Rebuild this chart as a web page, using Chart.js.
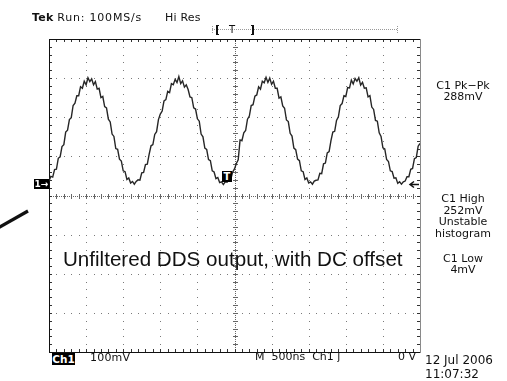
<!DOCTYPE html>
<html>
<head>
<meta charset="utf-8">
<script src="https://cdn.jsdelivr.net/npm/chart.js@4/dist/chart.umd.min.js"></script>
<style>
  html, body { margin: 0; padding: 0; background: #fff; }
  #wrap { position: relative; width: 507px; height: 381px; overflow: hidden; }
  #scope { position: absolute; left: 0; top: 0; }
  .lbl { position: absolute; font-family: "DejaVu Sans", sans-serif; font-size: 11px; line-height: 11px; color: #111; white-space: nowrap; }
  .meas { position: absolute; left: 423px; width: 80px; text-align: center; font-family: "DejaVu Sans", sans-serif; font-size: 11px; line-height: 11px; color: #111; white-space: nowrap; }
  .inv { position: absolute; background: #000; color: #fff; font-family: "DejaVu Sans", sans-serif; font-weight: bold; text-align: center; white-space: nowrap; }
  .note { position: absolute; left: 63px; top: 249px; font-family: "Liberation Sans", Arial, sans-serif; font-size: 20.6px; line-height: 20.6px; color: #111; white-space: nowrap; }
</style>
</head>
<body>
<div id="wrap">
  <canvas id="scope" width="507" height="381"></canvas>

  <div class="lbl" style="left:32px;top:12px;"><b style="letter-spacing:0.3px;">Tek</b> <span style="letter-spacing:0.8px;">Run: 100MS/s</span></div>
  <div class="lbl" style="left:165px;top:12px;letter-spacing:0.2px;">Hi Res</div>
  <div class="lbl" style="left:229px;top:24px;font-size:10px;">T</div>

  <div class="meas" style="top:80px;">C1 Pk−Pk<br>288mV</div>
  <div class="meas" style="top:193px;line-height:11.6px;">C1 High<br>252mV<br>Unstable<br>histogram</div>
  <div class="meas" style="top:253px;">C1 Low<br>4mV</div>

  <div class="inv" style="left:34px;top:179px;width:15px;height:10px;font-size:9px;line-height:10px;">1→</div>
  <div class="inv" style="left:222px;top:171px;width:10px;height:11px;font-size:10px;line-height:11px;">T</div>

  <div class="inv" style="left:52px;top:353px;width:23px;height:12px;font-size:10.5px;line-height:12px;">Ch1</div>
  <div class="lbl" style="left:90px;top:352px;letter-spacing:0.2px;">100mV</div>
  <div class="lbl" style="left:255px;top:351px;">M&nbsp; 500ns&nbsp; Ch1 ʃ</div>
  <div class="lbl" style="left:398px;top:351px;">0 V</div>
  <div class="lbl" style="left:425px;top:354px;font-size:12px;line-height:12px;">12 Jul 2006</div>
  <div class="lbl" style="left:425px;top:368px;font-size:12px;line-height:12px;">11:07:32</div>

  <div class="note">Unfiltered DDS output, with DC offset</div>
</div>

<script>
// Acquisition settings
const SAMPLE_NS = 25;            // one sample every 25 ns
const TIME_PER_DIV_US = 0.5;     // 500 ns / div
const VOLTS_PER_DIV_MV = 100;    // 100 mV / div
const H_DIVS = 10;
const V_DIVS = 8;
const SCREEN_BOTTOM_MV = -430;   // channel 1 ground sits 0.29 div above centre
const GROUND_MV = 0;

// Channel 1 record, mV (unfiltered DDS sine with DC offset)
const ch1 = [
  7, 19, 17, 36, 37, 65, 69, 95, 100, 132, 137, 164, 169, 200, 206, 225,
  225, 248, 244, 262, 253, 271, 261, 268, 253, 261, 242, 244, 220, 223, 197, 194,
  165, 158, 127, 121, 90, 88, 63, 58, 33, 31, 11, 15, 2, 6, -1, 6,
  10, 9, 28, 29, 49, 50, 76, 97, 100, 126, 133, 164, 178, 186, 212, 215,
  236, 233, 256, 253, 267, 259, 274, 256, 263, 247, 253, 241, 222, 220, 194, 191,
  166, 160, 127, 120, 91, 88, 62, 59, 33, 30, 13, 16, 3, 5, -2, 5,
  4, 15, 12, 30, 38, 52, 61, 112, 110, 130, 136, 165, 173, 200, 202, 224,
  227, 248, 242, 262, 258, 272, 259, 270, 254, 262, 244, 244, 219, 222, 199, 193,
  163, 159, 129, 122, 91, 87, 63, 59, 33, 31, 11, 15, 2, 5, -1, 7,
  9, 10, 27, 26, 51, 53, 79, 82, 110, 132, 134, 162, 171, 200, 205, 225,
  223, 246, 245, 265, 255, 269, 262, 271, 252, 259, 244, 245, 222, 225, 196, 190,
  162, 160, 130, 121, 92, 89, 62, 57, 33, 31, 14, 15, 1, 5, -1, 5,
  7, 18, 18, 37, 39, 64, 67, 96, 103
];

const points = ch1.map((mv, i) => ({ x: i * SAMPLE_NS / 1000, y: mv }));

// Tek style graticule, border ticks, markers and record bar
const graticule = {
  id: 'graticule',
  beforeDatasetsDraw(chart) {
    const { ctx, chartArea: a, scales: { x, y } } = chart;
    const L = Math.round(a.left), R = Math.round(a.right);
    const T = Math.round(a.top), B = Math.round(a.bottom);
    const xMinor = TIME_PER_DIV_US / 5, yMinor = VOLTS_PER_DIV_MV / 5;
    const xAt = k => Math.round(x.getPixelForValue(k * xMinor));
    const yAt = k => Math.round(y.getPixelForValue(SCREEN_BOTTOM_MV + k * yMinor));
    ctx.save();

    // dotted major grid lines
    ctx.fillStyle = '#7a7a7a';
    for (let d = 1; d < H_DIVS; d++) {
      if (d === H_DIVS / 2) continue;
      const px = xAt(d * 5);
      for (let k = 1; k < V_DIVS * 5; k++) ctx.fillRect(px, yAt(k), 1, 1);
    }
    for (let d = 1; d < V_DIVS; d++) {
      if (d === V_DIVS / 2) continue;
      const py = yAt(d * 5);
      for (let k = 1; k < H_DIVS * 5; k++) ctx.fillRect(xAt(k), py, 1, 1);
    }

    // centre cross: fine dots plus minor ticks
    const cx = xAt(H_DIVS * 5 / 2), cy = yAt(V_DIVS * 5 / 2);
    ctx.fillStyle = '#666';
    for (let px = L; px < R; px += 2) ctx.fillRect(px, cy, 1, 1);
    for (let py = T; py < B; py += 2) ctx.fillRect(cx, py, 1, 1);
    for (let k = 1; k < H_DIVS * 5; k++) ctx.fillRect(xAt(k), cy - 2, 1, 5);
    for (let k = 1; k < V_DIVS * 5; k++) ctx.fillRect(cx - 2, yAt(k), 5, 1);

    // border ticks
    ctx.fillStyle = '#333';
    for (let k = 1; k < H_DIVS * 5; k++) {
      ctx.fillRect(xAt(k), T, 1, 3);
      ctx.fillRect(xAt(k), B - 3, 1, 3);
    }
    for (let k = 1; k < V_DIVS * 5; k++) {
      ctx.fillRect(L, yAt(k), 3, 1);
      ctx.fillRect(R - 3, yAt(k), 3, 1);
    }

    // frame
    ctx.fillStyle = '#111';
    ctx.fillRect(L, T, R - L, 1);
    ctx.fillRect(L, B, R - L, 1);
    ctx.fillRect(L, T, 1, B - T);
    ctx.fillStyle = '#8a8a8a';
    ctx.fillRect(R, T, 1, B - T + 1);

    // record / trigger position bar above the screen
    ctx.fillStyle = '#999';
    for (let px = 212; px < 397; px += 2) ctx.fillRect(px, 29, 1, 1);
    for (let py = 26; py < 34; py += 2) { ctx.fillRect(212, py, 1, 1); ctx.fillRect(397, py, 1, 1); }
    ctx.fillStyle = '#111';
    ctx.fillRect(216, 25, 2, 10); ctx.fillRect(216, 25, 3, 1); ctx.fillRect(216, 34, 3, 1);
    ctx.fillRect(252, 25, 2, 10); ctx.fillRect(251, 25, 3, 1); ctx.fillRect(251, 34, 3, 1);

    // trigger level arrow at the ground reference
    const gy = Math.round(y.getPixelForValue(GROUND_MV)) + 0.5;
    ctx.strokeStyle = '#111';
    ctx.lineWidth = 1.5;
    ctx.beginPath();
    ctx.moveTo(R - 1, gy); ctx.lineTo(R - 10, gy);
    ctx.moveTo(R - 6, gy - 3); ctx.lineTo(R - 10, gy); ctx.lineTo(R - 6, gy + 3);
    ctx.stroke();

    // annotation pointer
    ctx.lineWidth = 3.2;
    ctx.lineCap = 'butt';
    ctx.beginPath();
    ctx.moveTo(-2, 228); ctx.lineTo(28, 211);
    ctx.stroke();
    ctx.restore();
  }
};

new Chart(document.getElementById('scope'), {
  type: 'line',
  data: {
    datasets: [{
      data: points,
      borderColor: '#262626',
      borderWidth: 1.4,
      pointRadius: 0,
      tension: 0,
      fill: false
    }]
  },
  options: {
    responsive: false,
    animation: false,
    devicePixelRatio: 1,
    layout: { padding: { left: 49, right: 87, top: 39, bottom: 29 } },
    plugins: { legend: { display: false }, tooltip: { enabled: false } },
    scales: {
      x: { type: 'linear', min: 0, max: H_DIVS * TIME_PER_DIV_US, display: false },
      y: { type: 'linear', min: SCREEN_BOTTOM_MV, max: SCREEN_BOTTOM_MV + V_DIVS * VOLTS_PER_DIV_MV, display: false }
    }
  },
  plugins: [graticule]
});
</script>
</body>
</html>
